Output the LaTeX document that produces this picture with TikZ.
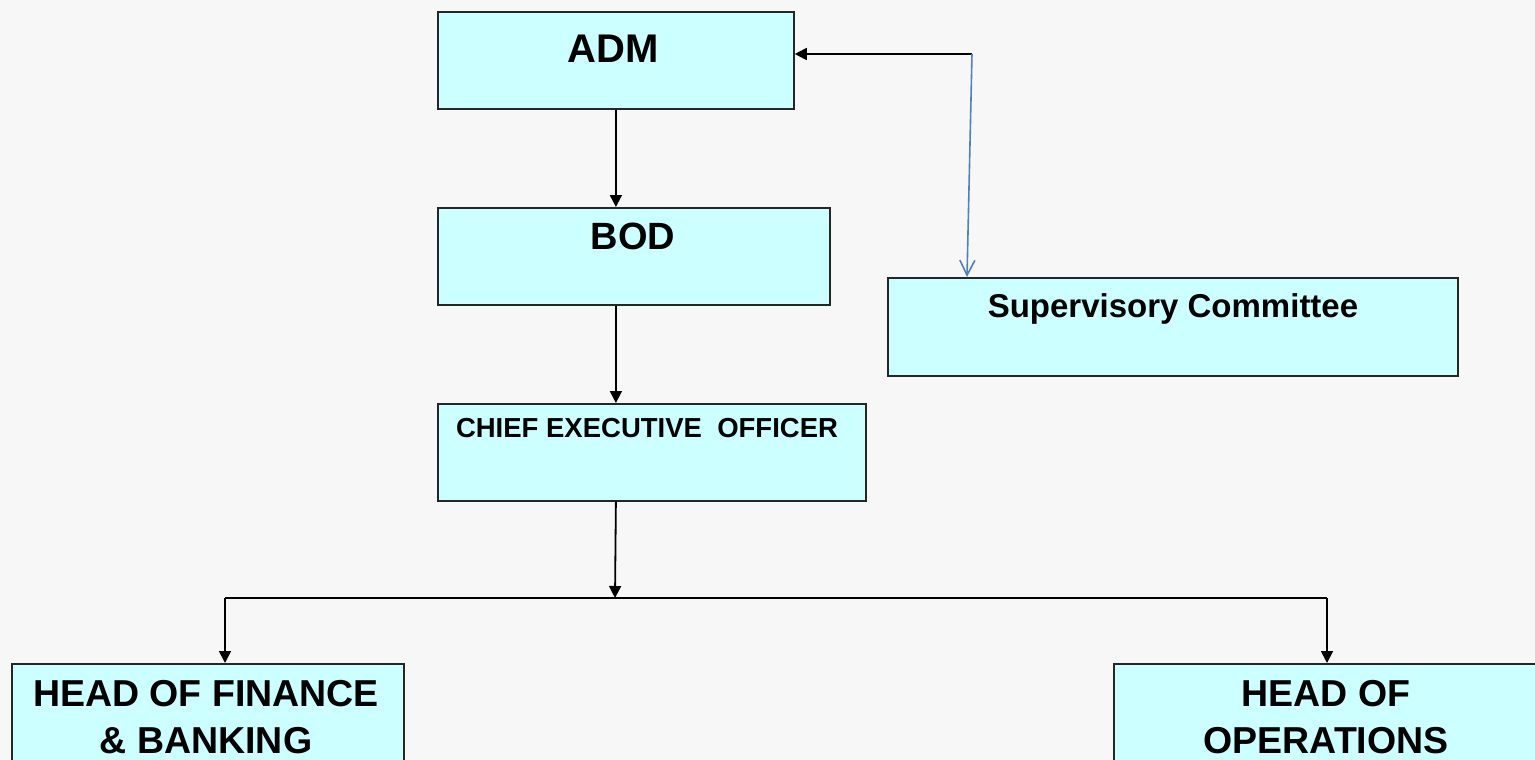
\documentclass[tikz,border=0pt]{standalone}
\usepackage{fontspec}
\setmainfont{Liberation Sans}
\usetikzlibrary{arrows.meta}
\definecolor{boxfill}{HTML}{CCFFFF}
\definecolor{bgcol}{HTML}{F7F7F7}
\definecolor{linkblue}{HTML}{4F81BD}
\begin{document}
\begin{tikzpicture}[x=1pt,y=-1pt,
  box/.style={draw=black!85, line width=1.8pt, fill=boxfill, anchor=north west, inner sep=0pt},
  lbl/.style={anchor=north, inner sep=0pt, align=center},
  admfont/.style={font=\bfseries\fontsize{40}{48}\selectfont},
  bodfont/.style={font=\bfseries\fontsize{38}{46}\selectfont},
  big/.style={font=\bfseries\fontsize{37.5}{47}\selectfont},
  supfont/.style={font=\bfseries\fontsize{33}{40}\selectfont},
  ceofont/.style={font=\bfseries\fontsize{27.5}{33}\selectfont},
  link/.style={draw=black, line width=1.8pt},
  conn/.style={link, -{Triangle[length=12pt,width=12pt]}},
  blueconn/.style={draw=linkblue, line width=1.6pt, -{Straight Barb[length=15pt,width=15pt]}}
  ]
\useasboundingbox (0,0) rectangle (1535,760);
\clip (0,0) rectangle (1535,760);
\fill[bgcol] (0,0) rectangle (1535,760);

% boxes
\node[box, minimum width=356pt, minimum height=97pt] (adm) at (437,11) {};
\node[box, minimum width=392pt, minimum height=97pt] (bod) at (437,207) {};
\node[box, minimum width=570pt, minimum height=98pt] (sup) at (887,277) {};
\node[box, minimum width=428pt, minimum height=97pt] (ceo) at (437,403) {};
\node[box, minimum width=392pt, minimum height=130pt] (hof) at (11,663) {};
\node[box, minimum width=430pt, minimum height=130pt] (hoo) at (1113,663) {};

% labels
\node[lbl, admfont] (admt) at (613,35) {ADM};
\node[lbl, bodfont] (bodt) at (633,223) {BOD};
\node[lbl, supfont] (supt) at (1173,293) {Supervisory Committee};
\node[lbl, ceofont] (ceot) at (647,418) {CHIEF EXECUTIVE\ \ OFFICER};
\node[lbl, big] (hoft) at (206,680) {HEAD OF FINANCE\\\& BANKING};
\node[lbl, big] (hoot) at (1326,680) {HEAD OF\\OPERATIONS};

% connectors
\coordinate (jn) at (615,598);
\coordinate (jl) at (225,598);
\coordinate (jr) at (1327,598);
\coordinate (corner) at (972,54);

\draw[conn] (adm.south) -- (adm.south |- bod.north);
\draw[conn] (adm.south |- bod.south) -- (adm.south |- ceo.north);
\draw[conn] (adm.south |- ceo.south) -- (jn);
\draw[link] (jl) -- (jr);
\draw[conn] (jl) -- (jl |- hof.north);
\draw[conn] (jr) -- (jr |- hoo.north);
\draw[conn] (corner) -- (corner -| adm.east);
\draw[blueconn] (corner) -- ([xshift=80pt]sup.north west);
\end{tikzpicture}
\end{document}
